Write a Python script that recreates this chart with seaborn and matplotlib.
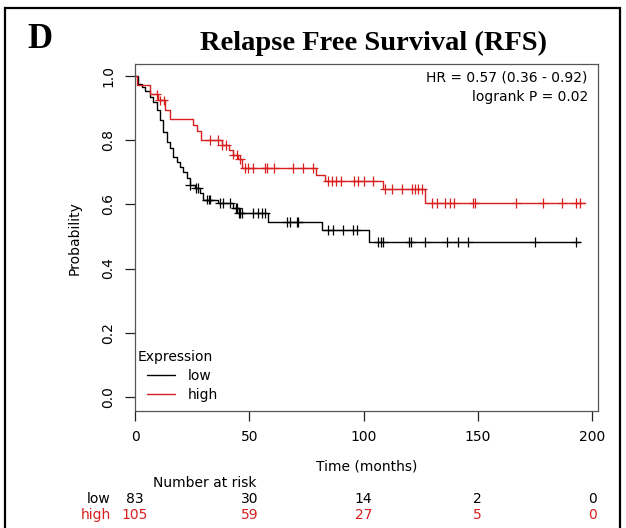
import numpy as np
import pandas as pd
import matplotlib
matplotlib.use("Agg")
import matplotlib.pyplot as plt
import matplotlib.transforms as mtransforms
from matplotlib.patches import Rectangle
import seaborn as sns

# ---- data ----
groups = ["low", "high"]
low_time = [0, 1.3, 3, 4.4, 6.6, 8, 9.6, 11, 12.3, 14, 15.3, 16.6, 18.4, 19.7, 21, 22.7,
            24, 26.3, 28.4, 29.8, 36.5, 43, 45.5, 58, 82, 102.5, 194.7]
low_surv = [1.0, 0.976, 0.964, 0.952, 0.935, 0.919, 0.894, 0.863, 0.826, 0.794, 0.776, 0.748,
            0.732, 0.716, 0.70, 0.682, 0.66, 0.651, 0.636, 0.614, 0.604, 0.589, 0.573, 0.545,
            0.52, 0.483, 0.483]
high_time = [0, 0.8, 6.6, 10, 13, 15.3, 25.4, 27, 29, 38, 41, 43, 45, 47, 79, 83, 108.5, 127, 197]
high_surv = [1.0, 0.971, 0.943, 0.924, 0.895, 0.866, 0.847, 0.828, 0.80, 0.785, 0.77, 0.755,
             0.74, 0.713, 0.69, 0.673, 0.648, 0.604, 0.604]
low_censor = [24, 26.5, 27.6, 31.5, 32.2, 32.8, 37, 38.5, 41.6, 44, 44.6, 45.5, 46, 46.8, 51.6,
              53.8, 55.5, 57, 66.5, 68, 70.9, 71.5, 84.5, 86.6, 91, 95.4, 97, 106.5, 107.5,
              108.6, 120, 120.8, 127, 136.5, 141.4, 145.7, 175, 193]
high_censor = [9.5, 11, 12.5, 32.8, 36.5, 38, 40, 43, 44.5, 46, 48, 49.5, 51.5, 57, 57.8, 61, 69,
               73.5, 78, 84.5, 86, 88, 90, 96, 97.5, 100, 104, 109.4, 112.5, 117, 121, 122.5,
               124, 125.6, 130, 132, 135.7, 138, 139.6, 148, 148.8, 166.7, 178.6, 187, 193, 194.7]
risk_times = [0, 50, 100, 150, 200]
risk_low = [83, 30, 14, 2, 0]
risk_high = [105, 59, 27, 5, 0]
x_ticks = [0, 50, 100, 150, 200]
y_ticks = [0.0, 0.2, 0.4, 0.6, 0.8, 1.0]
hr_text = ["HR = 0.57 (0.36 - 0.92)", "logrank P = 0.02"]

RED = "#d81e1e"
palette = {"low": "black", "high": RED}

sns.set_style("ticks")
plt.rcParams["font.family"] = ["DejaVu Sans"]
for key in ["text.color", "axes.labelcolor", "xtick.color", "ytick.color"]:
    plt.rcParams[key] = "black"

curves = pd.concat([
    pd.DataFrame({"time": low_time, "surv": low_surv, "Expression": "low"}),
    pd.DataFrame({"time": high_time, "surv": high_surv, "Expression": "high"}),
])

def step_val(times, survs, t):
    i = np.searchsorted(np.asarray(times), t, side="right") - 1
    return np.asarray(survs)[i]

cens = pd.concat([
    pd.DataFrame({"time": low_censor,
                  "surv": step_val(low_time, low_surv, np.array(low_censor)),
                  "Expression": "low"}),
    pd.DataFrame({"time": high_censor,
                  "surv": step_val(high_time, high_surv, np.array(high_censor)),
                  "Expression": "high"}),
])

W, H = 626, 528
fig = plt.figure(figsize=(W / 100, H / 100), dpi=100)
ax = fig.add_axes([135 / W, 1 - 411 / H, (598 - 135) / W, (411 - 64) / H])

sns.lineplot(data=curves, x="time", y="surv", hue="Expression", hue_order=groups,
             palette=palette, drawstyle="steps-post", estimator=None, sort=False,
             linewidth=1.0, ax=ax)
sns.scatterplot(data=cens, x="time", y="surv", hue="Expression", hue_order=groups,
                palette=palette, marker="+", s=45, linewidth=0.9, legend=False, ax=ax)

ax.set_xlim(0, 202.6)
ax.set_ylim(-0.0436, 1.037)
ax.set_xticks(x_ticks)
ax.set_yticks(y_ticks)
ax.set_xticklabels([str(v) for v in x_ticks], fontsize=10)
ax.set_yticklabels([f"{v:.1f}" for v in y_ticks], fontsize=10, rotation=90, va="center")
ax.tick_params(axis="both", direction="out", length=7, width=0.9, color="#222222", pad=7)
ax.set_xlabel("")
ax.set_ylabel("")
for sp in ax.spines.values():
    sp.set_visible(True)
    sp.set_linewidth(0.9)
    sp.set_color("#555555")

# legend (title drawn separately so the entries are indented as in the reference)
handles, labels = ax.get_legend_handles_labels()
leg = ax.legend(handles, labels, loc="upper left",
                bbox_to_anchor=(147 / W, 1 - 369 / H), bbox_transform=fig.transFigure,
                frameon=False, fontsize=10, handlelength=2.0,
                handletextpad=0.9, labelspacing=0.35, borderaxespad=0, borderpad=0)
for lh in leg.get_lines():
    lh.set_linewidth(1.0)
fig.text(138 / W, 1 - 357 / H, "Expression", ha="left", va="center", fontsize=10)

# HR text
ax.text(0.978, 0.96, hr_text[0], transform=ax.transAxes, ha="right", va="center", fontsize=10)
ax.text(0.978, 0.905, hr_text[1], transform=ax.transAxes, ha="right", va="center", fontsize=10)

# axis labels
fig.text(75 / W, 1 - 238 / H, "Probability", rotation=90, ha="center", va="center", fontsize=10)
fig.text(367 / W, 1 - 466 / H, "Time (months)", ha="center", va="center", fontsize=10)

# number at risk
fig.text(205 / W, 1 - 483 / H, "Number at risk", ha="center", va="center", fontsize=10)
fig.text(111 / W, 1 - 499 / H, "low", ha="right", va="center", fontsize=10, color="black")
fig.text(111 / W, 1 - 515 / H, "high", ha="right", va="center", fontsize=10, color=RED)
blend = mtransforms.blended_transform_factory(ax.transData, fig.transFigure)
for t, a, b in zip(risk_times, risk_low, risk_high):
    ax.text(t, 1 - 499 / H, str(a), transform=blend, ha="center", va="center",
            fontsize=10, color="black", clip_on=False)
    ax.text(t, 1 - 515 / H, str(b), transform=blend, ha="center", va="center",
            fontsize=10, color=RED, clip_on=False)

# title and panel letter
fig.text(374 / W, 1 - 43 / H, "Relapse Free Survival (RFS)", ha="center", va="center",
         fontsize=20.5, fontweight="bold", family="Liberation Serif", color="black")
fig.text(40 / W, 1 - 39 / H, "D", ha="center", va="center",
         fontsize=25, fontweight="bold", family="Liberation Serif", color="black")

# outer frame
fig.add_artist(Rectangle((5 / W, -0.05), (620 - 5) / W, 1.05 - 8 / H, transform=fig.transFigure,
                         fill=False, linewidth=1.6, edgecolor="black", clip_on=False))

fig.savefig("out.png", dpi=100)
